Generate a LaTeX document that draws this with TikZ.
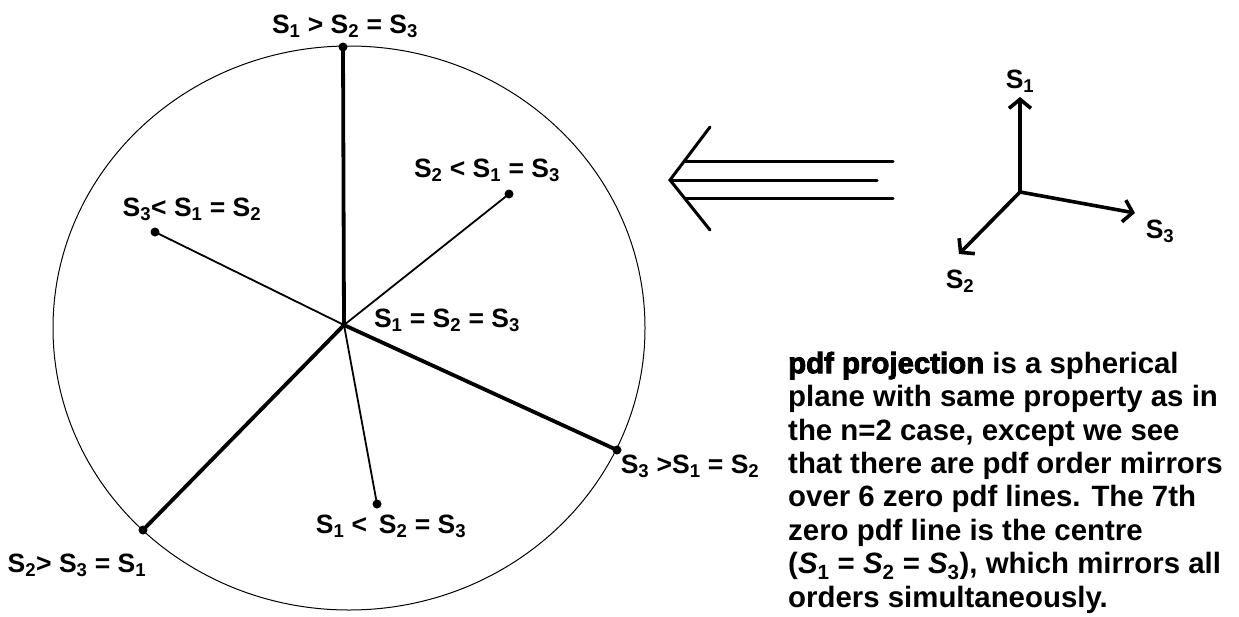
\documentclass[tikz,border=0pt]{standalone}
\usepackage{fontspec}
\setmainfont{Liberation Sans}
\newfontfamily\heavyfont[FakeBold=3]{Liberation Sans Bold}
\usetikzlibrary{arrows.meta}

\begin{document}
\begin{tikzpicture}[x=1pt, y=-1pt,
  lbl/.style={font=\fontsize{26.5}{30}\selectfont\bfseries, inner sep=0pt, anchor=base},
  spoke/.style={line width=1.8pt},
  heavy/.style={line width=3.8pt},
  dot/.style={circle, fill, inner sep=0pt, minimum size=9pt},
  axis/.style={line width=3.6pt, -{Straight Barb[length=9pt, width=22pt]}},
  bigarrow/.style={line width=3pt, line cap=round}]
  \useasboundingbox (0,0) rectangle (1239,616);

  % circle with the six zero pdf lines
  \draw[line width=1pt] (349,328) ellipse [x radius=296, y radius=282];
  \coordinate (hub) at (344,325);
  \foreach \n/\p/\w in {top/{343,47}/heavy, upr/{509,194}/spoke, upl/{155,232}/spoke,
                        rgt/{617,450}/heavy, bot/{377,504}/spoke, lowl/{143,530}/heavy} {
    \node[dot] (\n) at (\p) {};
    \draw[\w] (hub) -- (\n.center);
  }
  \node[dot, minimum size=6pt] at (hub) {};

  \node[lbl] (ltop) at (345,33) {S\textsubscript{1} > S\textsubscript{2} = S\textsubscript{3}};
  \node[lbl] (lupr) at (487,177) {S\textsubscript{2} < S\textsubscript{1} = S\textsubscript{3}};
  \node[lbl] (lupl) at (192,216) {S\textsubscript{3}< S\textsubscript{1} = S\textsubscript{2}};
  \node[lbl] (lhub) at (447,327) {S\textsubscript{1} = S\textsubscript{2} = S\textsubscript{3}};
  \node[lbl] (lrgt) at (690,473) {S\textsubscript{3} >S\textsubscript{1} = S\textsubscript{2}};
  \node[lbl] (lbot) at (391,533) {S\textsubscript{1} < \,S\textsubscript{2} = S\textsubscript{3}};
  \node[lbl] (llowl) at (77,572) {S\textsubscript{2}> S\textsubscript{3} = S\textsubscript{1}};

  % projection arrow
  \coordinate (tip) at (670,180);
  \coordinate (armT) at (710,127);
  \coordinate (armB) at (710,230);
  \draw[bigarrow] (armT) -- (tip) -- (armB);
  \draw[bigarrow] (tip) -- (877,180);
  \draw[bigarrow] (685,161) -- (893,161);
  \draw[bigarrow] (685,198) -- (893,198);

  % axes
  \coordinate (orig) at (1020,192);
  \node[lbl] (s1) at (1020,88) {S\textsubscript{1}};
  \node[lbl] (s2) at (960,288) {S\textsubscript{2}};
  \node[lbl] (s3) at (1160,238) {S\textsubscript{3}};
  \draw[axis] (orig) -- (1020,97);
  \draw[axis] (orig) -- (959,254);
  \draw[axis] (orig) -- (1135,213);

  \node[anchor=base west, inner sep=0pt, align=left,
        font=\fontsize{29.4}{33.4}\selectfont\bfseries] (txt) at (788,607)
    {{\heavyfont pdf projection} is a spherical\\
     plane with same property as in\\
     the n=2 case, except we see\\
     that there are pdf order mirrors\\
     over 6 zero pdf lines. The 7th\\
     zero pdf line is the centre\\
     (\textit{S}\textsubscript{1} = \textit{S}\textsubscript{2} = \textit{S}\textsubscript{3}), which mirrors all\\
     orders simultaneously.};
\end{tikzpicture}
\end{document}
